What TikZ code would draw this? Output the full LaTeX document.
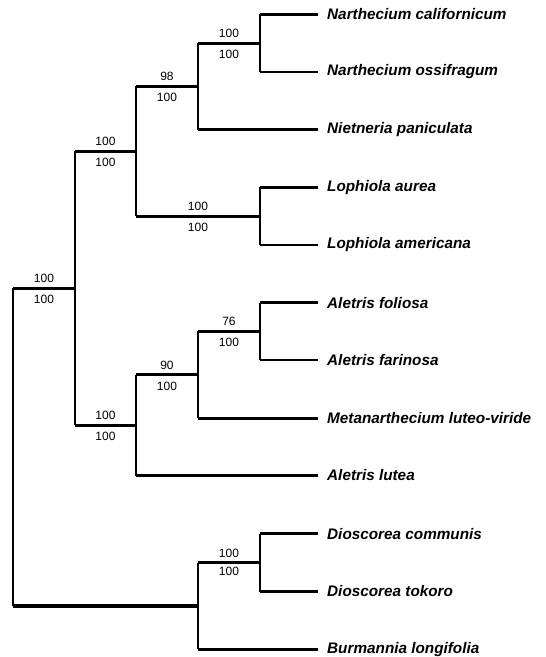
\documentclass[tikz,border=0pt]{standalone}
\usepackage{fontspec}
\setmainfont{Liberation Sans}
\usetikzlibrary{calc}

\begin{document}
\begin{tikzpicture}[
    x=1pt, y=-1pt,
    taxon/.style={anchor=west, inner xsep=9pt, inner ysep=0pt, font=\fontsize{15.3}{17}\selectfont\bfseries\itshape},
    branch/.style={line width=2.8pt},
    rise/.style={line width=1.4pt},
    support/.style={font=\fontsize{12}{14}\selectfont, inner sep=0pt}
]
\useasboundingbox (0,0) rectangle (546,657);

\node[taxon] (ncal) at (318,14.3) {Narthecium californicum};
\node[taxon] (noss) at (318,72) {Narthecium ossifragum};
\node[taxon] (npan) at (318,129.5) {Nietneria paniculata};
\node[taxon] (laur) at (318,187.3) {Lophiola aurea};
\node[taxon] (lame) at (318,245) {Lophiola americana};
\node[taxon] (afol) at (318,302.7) {Aletris foliosa};
\node[taxon] (afar) at (318,360) {Aletris farinosa};
\node[taxon] (mlut) at (318,418.3) {Metanarthecium luteo-viride};
\node[taxon] (alut) at (318,475.5) {Aletris lutea};
\node[taxon] (dcom) at (318,533.8) {Dioscorea communis};
\node[taxon] (dtok) at (318,591.5) {Dioscorea tokoro};
\node[taxon] (blon) at (318,649.3) {Burmannia longifolia};

\coordinate (narth) at (260,43.2);
\coordinate (nietn) at (198,86.3);
\coordinate (loph) at (260,216.2);
\coordinate (narthc) at (136,151.3);
\coordinate (alfol) at (260,331.4);
\coordinate (almet) at (198,374.8);
\coordinate (alet) at (136,425.2);
\coordinate (ingroup) at (75,288.2);
\coordinate (dios) at (260,562.7);
\coordinate (outgroup) at (198,606);
\coordinate (root) at (13,447);

\draw[rise] (narth |- ncal) -- (narth |- noss);
\draw[rise] (nietn) ++(0,-43.1) -- (nietn |- npan);
\draw[rise] (loph |- laur) -- (loph |- lame);
\draw[rise] (narthc |- nietn) -- (narthc |- loph);
\draw[rise] (alfol |- afol) -- (alfol |- afar);
\draw[rise] (almet |- alfol) -- (almet |- mlut);
\draw[rise] (alet |- almet) -- (alet |- alut);
\draw[rise] (ingroup |- narthc) -- (ingroup |- alet);
\draw[rise] (dios |- dcom) -- (dios |- dtok);
\draw[rise] (outgroup |- dios) -- (outgroup |- blon);
\draw[rise] (root |- ingroup) -- (root |- outgroup);

\draw[branch] (narth |- ncal) -- (ncal.west);
\draw[branch] (narth |- noss) -- (noss.west);
\draw[branch] (nietn |- npan) -- (npan.west);
\draw[branch] (loph |- laur) -- (laur.west);
\draw[branch] (loph |- lame) -- (lame.west);
\draw[branch] (alfol |- afol) -- (afol.west);
\draw[branch] (alfol |- afar) -- (afar.west);
\draw[branch] (almet |- mlut) -- (mlut.west);
\draw[branch] (alet |- alut) -- (alut.west);
\draw[branch] (dios |- dcom) -- (dcom.west);
\draw[branch] (dios |- dtok) -- (dtok.west);
\draw[branch] (outgroup |- blon) -- (blon.west);

\draw[branch] (nietn |- narth) -- (narth)
    node[midway, support, above=4pt] {100} node[midway, support, below=5.5pt] {100};
\draw[branch] (narthc |- nietn) -- (nietn)
    node[midway, support, above=4pt] {98} node[midway, support, below=5.5pt] {100};
\draw[branch] (narthc |- loph) -- (loph)
    node[midway, support, above=4pt] {100} node[midway, support, below=5.5pt] {100};
\draw[branch] (ingroup |- narthc) -- (narthc)
    node[midway, support, above=4pt] {100} node[midway, support, below=5.5pt] {100};
\draw[branch] (almet |- alfol) -- (alfol)
    node[midway, support, above=4pt] {76} node[midway, support, below=5.5pt] {100};
\draw[branch] (alet |- almet) -- (almet)
    node[midway, support, above=4pt] {90} node[midway, support, below=5.5pt] {100};
\draw[branch] (ingroup |- alet) -- (alet)
    node[midway, support, above=4pt] {100} node[midway, support, below=5.5pt] {100};
\draw[branch] (root |- ingroup) -- (ingroup)
    node[midway, support, above=4pt] {100} node[midway, support, below=5.5pt] {100};
\draw[branch] (outgroup |- dios) -- (dios)
    node[midway, support, above=4pt] {100} node[midway, support, below=3.5pt] {100};
\draw[branch, line width=3.4pt] (root |- outgroup) -- (outgroup);
\end{tikzpicture}
\end{document}
